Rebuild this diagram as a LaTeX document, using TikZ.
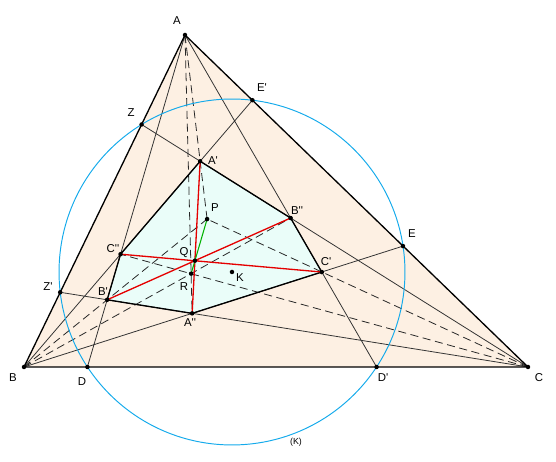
\documentclass[tikz,border=0pt]{standalone}
\usepackage{fontspec}
\newfontfamily\labfont{Liberation Sans}
\newcommand{\pr}{\textquotesingle}
\begin{document}
\begin{tikzpicture}[x=0.02cm,y=-0.02cm,
  thinline/.style={draw=black!80,line width=0.45pt},
  sideline/.style={draw=black,line width=0.75pt},
  dashline/.style={draw=black!85,line width=0.45pt,dash pattern=on 4.6pt off 2.6pt},
  redline/.style={draw=red!90!black,line width=0.75pt},
  greenline/.style={draw=green!70!black,line width=0.6pt},
  dot/.style={fill=black},
  lab/.style={font=\labfont\fontsize{6.5}{7.5}\selectfont,inner sep=0pt}]
\useasboundingbox (0,0) rectangle (556,462);
\coordinate (A) at (185,35);
\coordinate (B) at (24,367);
\coordinate (C) at (528,367);
\coordinate (K) at (232,272);
\coordinate (D) at (87.4,367);
\coordinate (Dp) at (376.6,367);
\coordinate (E) at (403.0,246.1);
\coordinate (Ep) at (252.4,100.2);
\coordinate (Z) at (141.6,124.5);
\coordinate (Zp) at (60.2,292.3);
\coordinate (Ap) at (intersection of C--Z and B--Ep);
\coordinate (Bpp) at (intersection of C--Z and A--Dp);
\coordinate (Cp) at (intersection of A--Dp and B--E);
\coordinate (App) at (intersection of B--E and C--Zp);
\coordinate (Bp) at (intersection of C--Zp and A--D);
\coordinate (Cpp) at (intersection of A--D and B--Ep);
\coordinate (P) at (intersection of A--Ap and B--Bp);
\coordinate (R) at (intersection of A--App and B--Bpp);
\coordinate (Q) at (intersection of Ap--App and Bp--Bpp);
\fill[fill={rgb,255:red,253;green,240;blue,227}] (A) -- (B) -- (C) -- cycle;
\fill[fill={rgb,255:red,234;green,253;blue,249}] (Ap) -- (Bpp) -- (Cp) -- (App) -- (Bp) -- (Cpp) -- cycle;
\draw[thinline] (A) -- (D) (A) -- (Dp) (B) -- (E) (B) -- (Ep) (C) -- (Z) (C) -- (Zp);
\draw[dashline] (A) -- (P) (B) -- (P) (C) -- (P);
\draw[dashline] (A) -- (App) (B) -- (Bpp) (C) -- (Cpp);
\draw[draw={rgb,255:red,20;green,170;blue,235},line width=0.55pt] (K) circle (3.46cm);
\draw[sideline] (Ap) -- (Bpp) -- (Cp) -- (App) -- (Bp) -- (Cpp) -- cycle;
\draw[sideline] (A) -- (B) -- (C) -- cycle;
\draw[redline] (Ap) -- (App) (Bp) -- (Bpp) (Cp) -- (Cpp);
\draw[greenline] (P) -- (R);
\foreach \p in {A,B,C,D,Dp,E,Ep,Z,Zp,Ap,Bp,Cp,App,Bpp,Cpp,P,Q,R,K}
  \fill[dot] (\p) circle (0.045cm);
\node[lab] (lA) at (177,21) {A};
\node[lab] (lB) at (13,378) {B};
\node[lab] (lC) at (539,378) {C};
\node[lab] (lD) at (82,382) {D};
\node[lab] (lDp) at (383,378) {D\pr};
\node[lab] (lE) at (412,234) {E};
\node[lab] (lEp) at (262,88) {E\pr};
\node[lab] (lZ) at (131,113) {Z};
\node[lab] (lZp) at (48,287) {Z\pr};
\node[lab] (lAp) at (213,161) {A\pr};
\node[lab] (lBpp) at (297,211) {B\pr\pr};
\node[lab] (lCp) at (326,262) {C\pr};
\node[lab] (lApp) at (190,323) {A\pr\pr};
\node[lab] (lBp) at (103,292) {B\pr};
\node[lab] (lCpp) at (113,249) {C\pr\pr};
\node[lab] (lP) at (215,208) {P};
\node[lab] (lQ) at (184,253) {Q};
\node[lab] (lR) at (184,287) {R};
\node[lab] (lK) at (240,278) {K};
\node[lab,font=\labfont\fontsize{5}{6}\selectfont] (lKc) at (296,442) {(K)};
\end{tikzpicture}
\end{document}
